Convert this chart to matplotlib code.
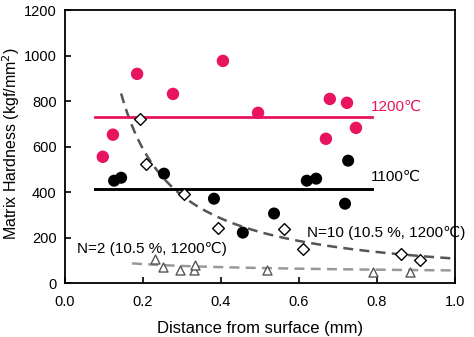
import numpy as np
import matplotlib
matplotlib.use('Agg')
import matplotlib.pyplot as plt

plt.rcParams['font.family'] = ['Liberation Sans', 'DejaVu Sans']

# hardness measurements (kgf/mm2) vs distance from surface (mm)
x_1200 = [0.097, 0.123, 0.185, 0.277, 0.405, 0.495, 0.669, 0.679, 0.723, 0.746]
y_1200 = [556, 653, 920, 832, 977, 749, 635, 810, 793, 683]
x_1100 = [0.126, 0.144, 0.254, 0.382, 0.456, 0.536, 0.620, 0.644, 0.718, 0.726]
y_1100 = [451, 464, 482, 372, 223, 307, 451, 460, 350, 539]
mean_1200 = 731
mean_1100 = 416

x_n10 = [0.192, 0.208, 0.305, 0.392, 0.562, 0.610, 0.862, 0.910]
y_n10 = [723, 526, 394, 245, 241, 149, 131, 101]
x_n2 = [0.231, 0.251, 0.295, 0.331, 0.333, 0.518, 0.790, 0.885]
y_n2 = [109, 70, 57, 61, 79, 57, 50, 48]

# power trend lines y = a * x^b  (a, b, x start)
trend_n10 = (109, -1.05, 0.144)
trend_n2 = (57, -0.247, 0.172)

pink = '#e8145f'

fig = plt.figure(figsize=(4.74, 3.37), dpi=100)
ax = fig.add_axes([0.137, 0.159, 0.823, 0.811])

for (a, b, x0), col in [(trend_n10, '#555555'), (trend_n2, '#999999')]:
    xx = np.linspace(x0, 1.0, 200)
    ax.plot(xx, a * xx ** b, ls=(0, (4, 2.5)), color=col, lw=1.8, zorder=2)

ax.plot([0.077, 0.787], [mean_1200, mean_1200], color=pink, lw=2, zorder=3)
ax.plot([0.077, 0.787], [mean_1100, mean_1100], color='black', lw=2.1, zorder=3)

ax.scatter(x_1200, y_1200, s=80, color=pink, zorder=4, edgecolors='none')
ax.scatter(x_1100, y_1100, s=75, color='black', zorder=4, edgecolors='none')
ax.scatter(x_n10, y_n10, s=36, marker='D', facecolors='white', edgecolors='black', linewidths=1, zorder=5)
ax.scatter(x_n2, y_n2, s=42, marker='^', facecolors='white', edgecolors='#555555', linewidths=1, zorder=5)

ax.text(0.785, 776, '1200\u2103', color=pink, fontsize=11, va='center')
ax.text(0.785, 470, '1100\u2103', color='black', fontsize=11, va='center')
ax.text(0.62, 223, 'N=10 (10.5 %, 1200\u2103)', fontsize=11, va='center')
ax.text(0.03, 153, 'N=2 (10.5 %, 1200\u2103)', fontsize=11, va='center')

ax.set_xlim(0, 1.0)
ax.set_ylim(0, 1200)
ax.set_xticks(np.arange(0, 1.01, 0.2))
ax.set_yticks(range(0, 1201, 200))
ax.xaxis.set_major_formatter(matplotlib.ticker.FormatStrFormatter('%.1f'))
ax.tick_params(direction='in', length=4, width=1.2, labelsize=10.5)
ax.tick_params(axis='x', pad=8)
ax.tick_params(axis='y', pad=6)
for sp in ax.spines.values():
    sp.set_linewidth(1.3)

ax.set_xlabel('Distance from surface (mm)', fontsize=12, labelpad=9)
ax.set_ylabel('Matrix Hardness (kgf/mm$^2$)', fontsize=11.5)
ax.yaxis.set_label_coords(-0.11, 0.51)

fig.savefig('out.png', dpi=100)
